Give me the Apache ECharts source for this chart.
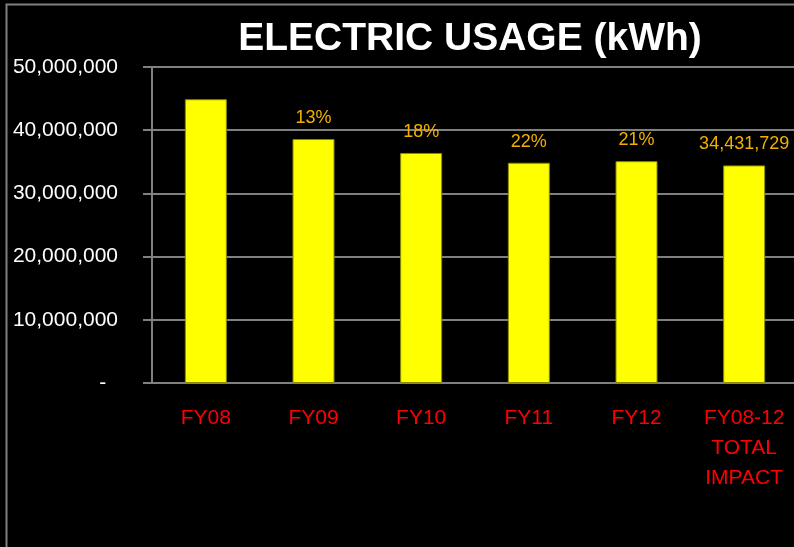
<!DOCTYPE html>
<html>
<head>
<meta charset="utf-8">
<title>Electric Usage</title>
<script src="https://cdn.jsdelivr.net/npm/echarts@6/dist/echarts.min.js"></script>
<style>
    html,body{margin:0;padding:0;background:#000;}
    #main{width:794px;height:547px;}
</style>
</head>
<body>
<div id="main"></div>
<script>
    // data
    var categories = ['FY08', 'FY09', 'FY10', 'FY11', 'FY12', 'FY08-12\nTOTAL\nIMPACT'];
    var usage = [44900000, 38600000, 36400000, 34850000, 35100000, 34431729];
    var barLabels = ['', '13%', '18%', '22%', '21%', '34,431,729'];
    var yTicks = [0, 10000000, 20000000, 30000000, 40000000, 50000000];

    // no narrow font here, so plain Liberation Sans sized to the same widths
    var font = "'Liberation Sans',Arial,sans-serif";
    var chart = echarts.init(document.getElementById('main'));

    // 千位分隔
    function fmt(v) {
        if (v === 0) return '-  ';
        return String(v).replace(/\B(?=(\d{3})+(?!\d))/g, ',');
    }

    chart.setOption({
        backgroundColor: '#000',
        animation: false,
        title: {
            text: 'ELECTRIC USAGE (kWh)',
            left: 465, top: 15, textAlign: 'center',
            textStyle: {color: '#fff', fontSize: 39, fontWeight: 'bold', fontFamily: font}
        },
        graphic: [{
            type: 'rect', left: 4, top: 2, silent: true,
            shape: {width: 900, height: 900},
            style: {fill: 'none', stroke: '#808080', lineWidth: 2}
        }],
        grid: {left: 152, top: 67, width: 646, height: 316, containLabel: false, outerBoundsMode: 'none'},
        xAxis: {
            type: 'category', data: categories,
            axisLine: {lineStyle: {color: '#808080', width: 2}},
            axisTick: {length: 9, lineStyle: {color: '#808080', width: 2}},
            axisLabel: {color: '#ff0000', fontSize: 21, fontFamily: font, margin: 20, lineHeight: 30, interval: 0}
        },
        yAxis: {
            type: 'value', min: yTicks[0], max: yTicks[yTicks.length - 1], interval: 10000000,
            axisLine: {show: true, lineStyle: {color: '#808080', width: 2}},
            axisTick: {show: true, length: 9, lineStyle: {color: '#808080', width: 2}},
            splitLine: {lineStyle: {color: '#808080', width: 2}},
            axisLabel: {color: '#fff', fontSize: 21, fontFamily: font, margin: 34, formatter: fmt}
        },
        series: [{
            type: 'bar', data: usage, barWidth: 42,
            itemStyle: {color: '#ffff00', borderColor: '#8a8a00', borderWidth: 1},
            label: {
                show: true, position: 'top', distance: 12,
                color: '#f2b000', fontSize: 18, fontFamily: font,
                formatter: function (p) { return barLabels[p.dataIndex]; }
            }
        }]
    });
</script>
</body>
</html>
